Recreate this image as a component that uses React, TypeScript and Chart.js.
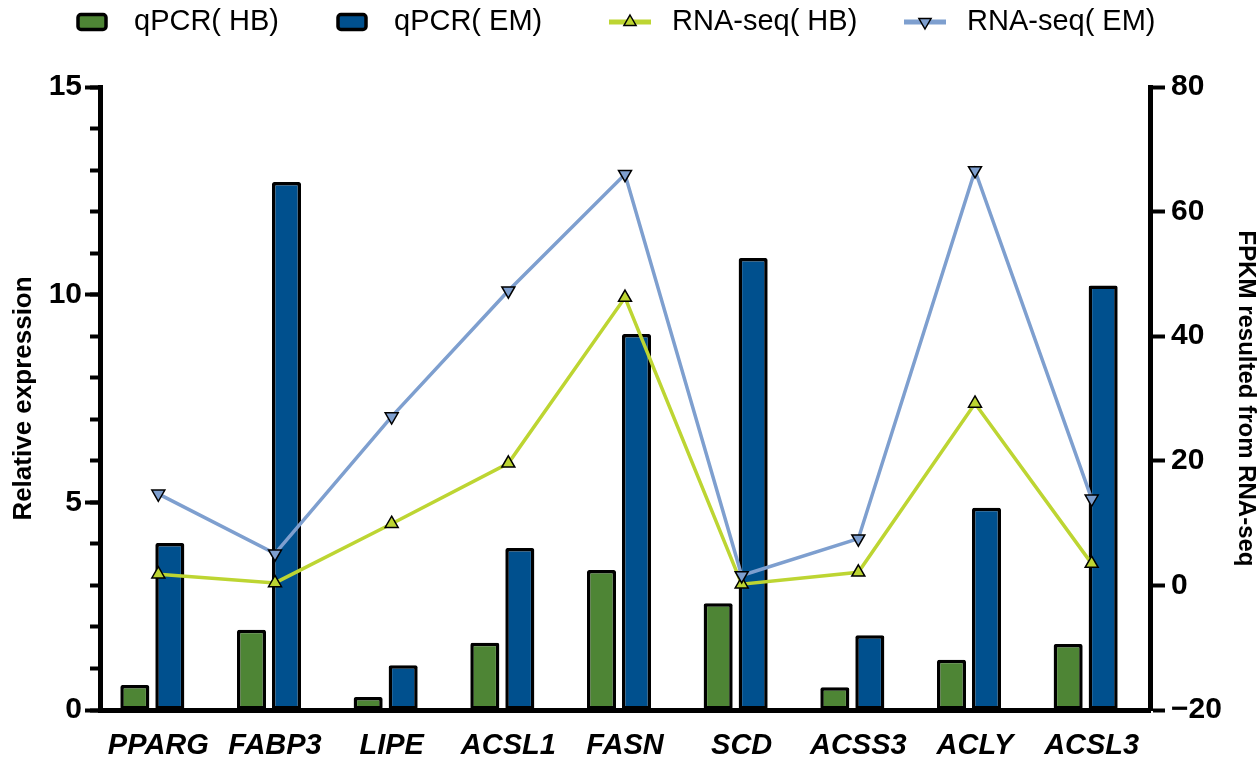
import React, { useEffect, useRef } from 'react';
import { Chart, registerables } from 'chart.js';

Chart.register(...registerables);

// ---------- data ----------
const categories = ['PPARG', 'FABP3', 'LIPE', 'ACSL1', 'FASN', 'SCD', 'ACSS3', 'ACLY', 'ACSL3'];
const qpcrHB = [0.6, 1.93, 0.31, 1.62, 3.37, 2.57, 0.55, 1.21, 1.59];
const qpcrEM = [4.02, 12.71, 1.08, 3.9, 9.05, 10.88, 1.8, 4.87, 10.22];
const rnaHB = [1.8, 0.4, 9.9, 19.6, 46.2, 0.2, 2.1, 29.2, 3.5];
const rnaEM = [14.7, 5.1, 27.1, 47.3, 66.0, 1.6, 7.5, 66.6, 13.9];
const seriesLabels = ['qPCR( HB)', 'qPCR( EM)', 'RNA-seq( HB)', 'RNA-seq( EM)'];
const leftRange = [0, 15];
const leftMajorStep = 5;
const leftMinorStep = 1;
const rightRange = [-20, 80];
const rightStep = 20;

// ---------- style ----------
const FONT = "'Liberation Sans', Arial, Helvetica, sans-serif";
const GREEN = '#4e8535';
const BLUE = '#00508e';
const LIME = '#bdd532';
const SKY = '#7e9fcf';

function triangle(ctx: CanvasRenderingContext2D, x: number, y: number, r: number, down: boolean) {
  const s = down ? -1 : 1;
  ctx.beginPath();
  ctx.moveTo(x, y - s * r);
  ctx.lineTo(x + r * 0.866, y + s * r / 2);
  ctx.lineTo(x - r * 0.866, y + s * r / 2);
  ctx.closePath();
}

// legend drawn at the top, labels and colours taken from the datasets
const topLegend = {
  id: 'topLegend',
  afterDraw(chart: any, _args: any, opts: any) {
    const ctx: CanvasRenderingContext2D = chart.ctx;
    ctx.save();
    ctx.font = `${opts.fontSize}px ${FONT}`;
    ctx.textBaseline = 'middle';
    ctx.textAlign = 'left';
    const y = opts.y;
    chart.data.datasets.forEach((ds: any, i: number) => {
      const cx = opts.iconCenters[i];
      if (ds.type === 'bar') {
        const w = 28, h = 15;
        ctx.beginPath();
        if ((ctx as any).roundRect) (ctx as any).roundRect(cx - w / 2, y - h / 2, w, h, 3);
        else ctx.rect(cx - w / 2, y - h / 2, w, h);
        ctx.fillStyle = ds.backgroundColor;
        ctx.fill();
        ctx.lineWidth = 3.5;
        ctx.strokeStyle = '#000';
        ctx.stroke();
      } else {
        ctx.beginPath();
        ctx.moveTo(cx - 21, y);
        ctx.lineTo(cx + 21, y);
        ctx.lineWidth = 5;
        ctx.strokeStyle = ds.borderColor;
        ctx.stroke();
        triangle(ctx, cx, y, 7, ds.pointRotation === 180);
        ctx.fillStyle = ds.borderColor;
        ctx.fill();
        ctx.lineWidth = 1.5;
        ctx.strokeStyle = '#000';
        ctx.stroke();
      }
      ctx.fillStyle = '#000';
      ctx.fillText(ds.label, cx + opts.iconToText, y);
    });
    ctx.restore();
  },
};

// bars sit slightly left of the category centre, as in the original figure
const barNudge = {
  id: 'barNudge',
  afterDatasetsUpdate(chart: any, _args: any, opts: any) {
    chart.data.datasets.forEach((ds: any, i: number) => {
      if (ds.type !== 'bar') return;
      chart.getDatasetMeta(i).data.forEach((el: any) => { el.x += opts.shift; });
    });
  },
};

export default function App() {
  const ref = useRef<HTMLCanvasElement | null>(null);

  useEffect(() => {
    if (!ref.current) return;
    const barCommon = {
      type: 'bar' as const,
      borderColor: '#000',
      borderWidth: 3.5,
      borderSkipped: false,
      borderRadius: 2,
      yAxisID: 'y',
      order: 2,
      categoryPercentage: 0.6,
      barPercentage: 0.83,
    };
    const lineCommon = {
      type: 'line' as const,
      borderWidth: 3.5,
      tension: 0,
      pointStyle: 'triangle',
      pointRadius: 7.5,
      pointHoverRadius: 7.5,
      pointBorderColor: '#000',
      pointBorderWidth: 1.5,
      yAxisID: 'y2',
      fill: false,
    };
    const chart = new Chart(ref.current, {
      type: 'bar',
      data: {
        labels: categories,
        datasets: [
          { ...barCommon, label: seriesLabels[0], data: qpcrHB, backgroundColor: GREEN },
          { ...barCommon, label: seriesLabels[1], data: qpcrEM, backgroundColor: BLUE },
          {
            ...lineCommon, label: seriesLabels[2], data: rnaHB,
            borderColor: LIME, backgroundColor: LIME, pointBackgroundColor: LIME, order: 1,
          },
          {
            ...lineCommon, label: seriesLabels[3], data: rnaEM,
            borderColor: SKY, backgroundColor: SKY, pointBackgroundColor: SKY, pointRotation: 180, order: 0,
          },
        ] as any,
      },
      options: {
        responsive: false,
        animation: false,
        devicePixelRatio: 1,
        layout: { padding: { top: 87, left: 0, right: 0, bottom: 0 } },
        plugins: {
          legend: { display: false },
          tooltip: { enabled: false },
          topLegend: { iconCenters: [92, 352, 630, 925], y: 22, fontSize: 29, iconToText: 42 },
          barNudge: { shift: -6 },
        } as any,
        scales: {
          x: {
            type: 'category',
            offset: true,
            grid: { display: false, drawTicks: false },
            border: { display: true, color: '#000', width: 5 },
            ticks: {
              color: '#000',
              font: { family: FONT, size: 29, weight: 'bold', style: 'italic' },
              padding: 19,
              maxRotation: 0,
              autoSkip: false,
            },
            afterFit: (s: any) => { s.height = 50; },
          },
          y: {
            position: 'left',
            weight: 1,
            min: leftRange[0],
            max: leftRange[1],
            ticks: {
              stepSize: leftMajorStep,
              color: '#000',
              font: { family: FONT, size: 30, weight: 'bold' },
              padding: 3,
            },
            grid: { drawOnChartArea: false, drawTicks: true, tickLength: 15, tickWidth: 4, tickColor: '#000' },
            border: { display: true, color: '#000', width: 5 },
            title: {
              display: true,
              text: 'Relative expression',
              color: '#000',
              font: { family: FONT, size: 26, weight: 'bold', lineHeight: 1.2 },
              padding: { top: 8, bottom: 0 },
            },
            afterFit: (s: any) => { s.width = 100; },
          },
          yMinor: {
            position: 'left',
            weight: 0,
            min: leftRange[0],
            max: leftRange[1],
            ticks: { stepSize: leftMinorStep, display: false },
            grid: { drawOnChartArea: false, drawTicks: true, tickLength: 10, tickWidth: 4, tickColor: '#000' },
            border: { display: false },
            afterFit: (s: any) => { s.width = 0; },
          },
          y2: {
            position: 'right',
            min: rightRange[0],
            max: rightRange[1],
            ticks: {
              stepSize: rightStep,
              color: '#000',
              font: { family: FONT, size: 30, weight: 'bold' },
              padding: 6,
              callback: (v: any) => (Number(v) < 0 ? '\u2212' + Math.abs(Number(v)) : String(v)),
            },
            grid: { drawOnChartArea: false, drawTicks: true, tickLength: 15, tickWidth: 4, tickColor: '#000' },
            border: { display: true, color: '#000', width: 5 },
            title: {
              display: true,
              text: 'FPKM resulted from RNA-seq',
              color: '#000',
              font: { family: FONT, size: 24, weight: 'bold', lineHeight: 1.0 },
              padding: { top: 0, bottom: 0 },
            },
            afterFit: (s: any) => { s.width = 108; },
          },
        } as any,
      },
      plugins: [topLegend as any, barNudge as any],
    });
    return () => chart.destroy();
  }, []);

  return (
    <div style={{ position: 'fixed', left: 0, top: 0, width: 1258, height: 760, background: '#fff' }}>
      <canvas ref={ref} width={1258} height={760} style={{ display: 'block', width: 1258, height: 760 }} />
    </div>
  );
}
